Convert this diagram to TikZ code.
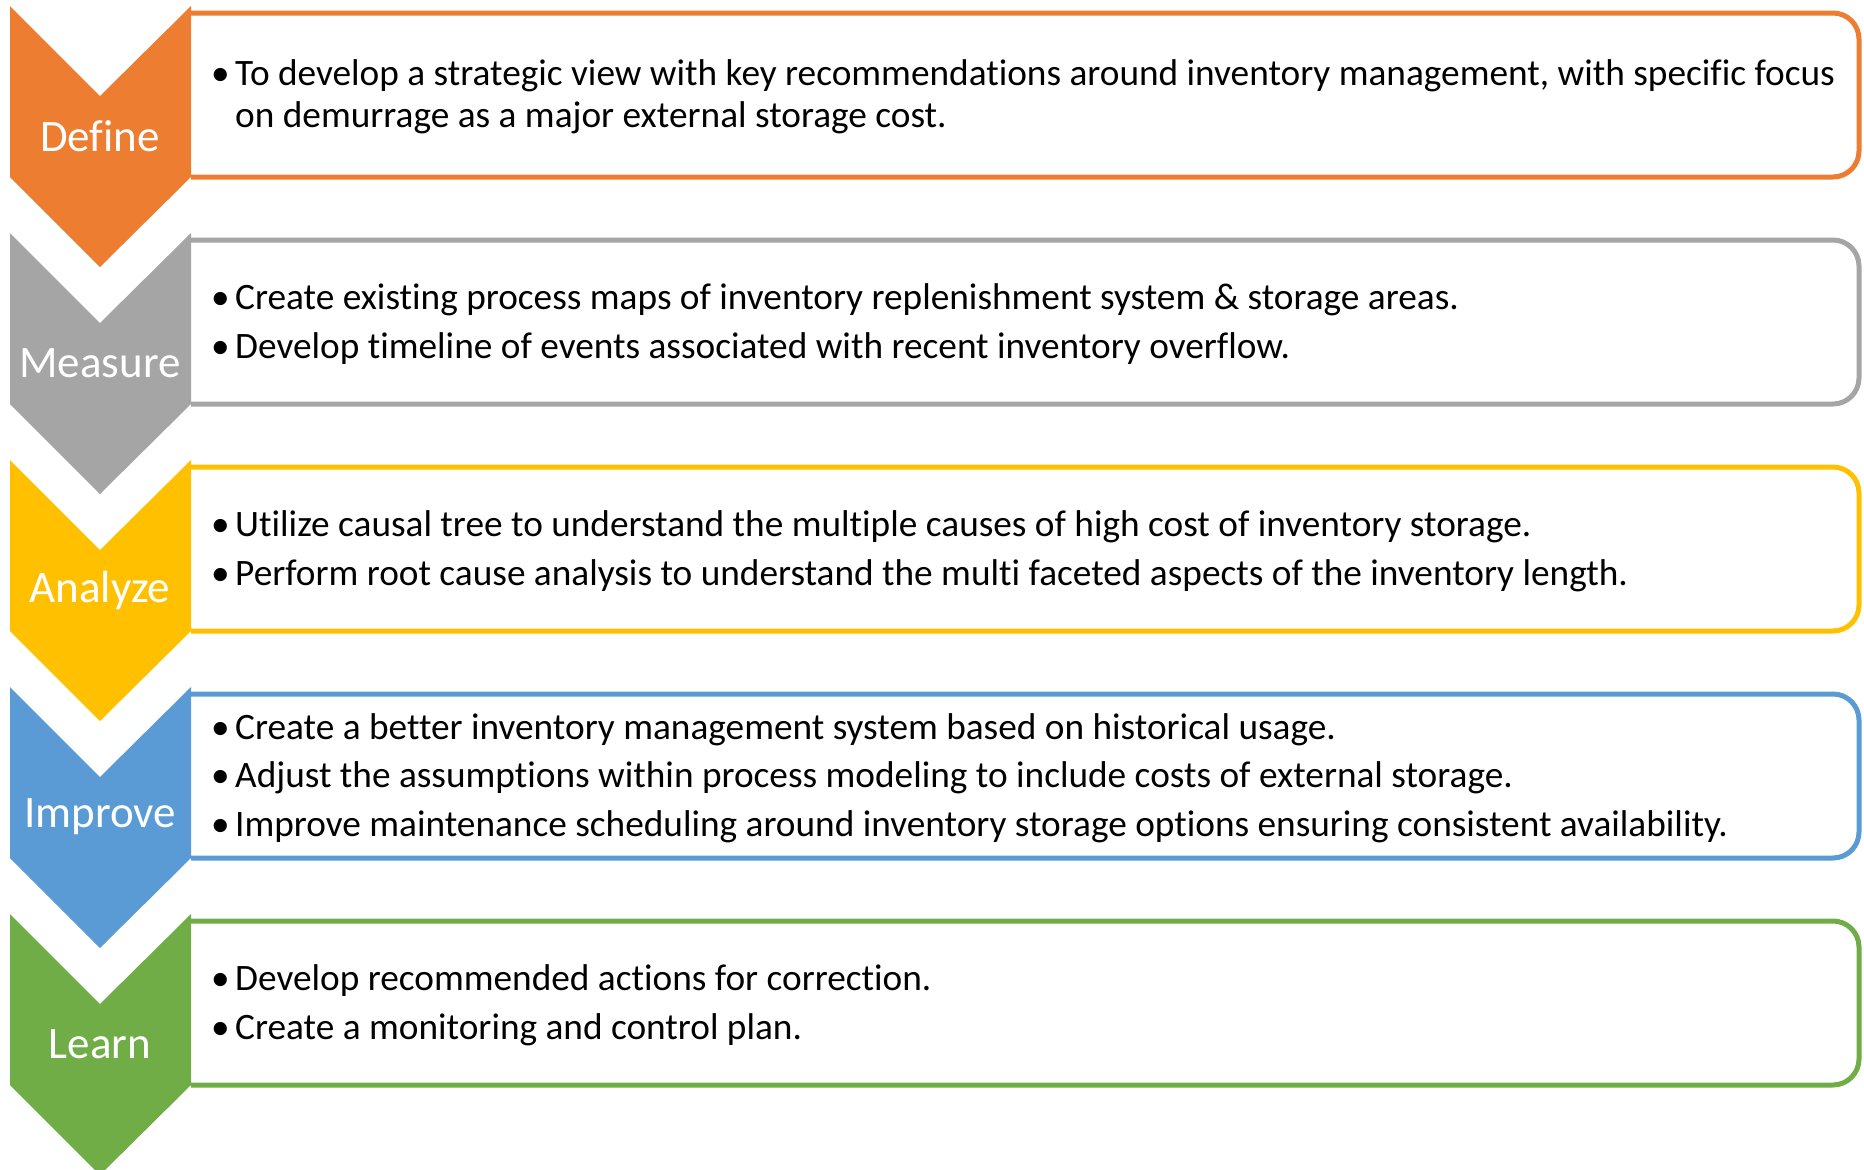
\documentclass[tikz,border=0pt]{standalone}
\usepackage{fontspec}
\setmainfont[Ligatures=CommonOff]{Carlito}

\definecolor{defineorange}{HTML}{ED7D31}
\definecolor{measuregray}{HTML}{A5A5A5}
\definecolor{analyzegold}{HTML}{FFC000}
\definecolor{improveblue}{HTML}{5B9BD5}
\definecolor{learngreen}{HTML}{70AD47}

% bullet with hanging indent
\newcommand{\bul}{\makebox[22pt][l]{\hspace{-2pt}\textbullet}}
\newcommand{\ind}{\hspace*{22pt}}

\begin{document}
\begin{tikzpicture}[x=1pt, y=-1pt,
    phase/.style={text=white, font=\fontsize{45}{52}\selectfont, inner sep=0pt},
    info/.style={anchor=west, align=left, inner sep=0pt, font=\fontsize{37.3}{41.5}\selectfont},
    frame/.style={line width=5pt, rounded corners=26pt}
]
\useasboundingbox (0,0) rectangle (1864,1170);

% Define
\draw[defineorange, frame] (191,13) -- (1859,13) -- (1859,177) -- (191,177);
\fill[defineorange] (10,6) -- (100,96) -- (191,6) -- (191,177) -- (100,267) -- (10,177) -- cycle;
\node[phase] (def) at (100,136) {Define};
\node[info] (deftxt) at (213,97) {\bul To develop a strategic view with key recommendations around inventory management, with specific focus\\
  \ind on demurrage as a major external storage cost.};

% Measure
\begin{scope}[shift={(0,227)}]
\draw[measuregray, frame] (191,13) -- (1859,13) -- (1859,177) -- (191,177);
\fill[measuregray] (10,6) -- (100,96) -- (191,6) -- (191,177) -- (100,267) -- (10,177) -- cycle;
\node[phase] (meas) at (100,136) {Measure};
\node[info] (meastxt) at (213,97) {\bul Create existing process maps of inventory replenishment system \& storage areas.\\[7pt]
  \bul Develop timeline of events associated with recent inventory overflow.};
\end{scope}

% Analyze
\begin{scope}[shift={(0,454)}]
\draw[analyzegold, frame] (191,13) -- (1859,13) -- (1859,177) -- (191,177);
\fill[analyzegold] (10,6) -- (100,96) -- (191,6) -- (191,177) -- (100,267) -- (10,177) -- cycle;
\node[phase] (ana) at (100,136) {Analyze};
\node[info] (anatxt) at (213,97) {\bul Utilize causal tree to understand the multiple causes of high cost of inventory storage.\\[7pt]
  \bul Perform root cause analysis to understand the multi faceted aspects of the inventory length.};
\end{scope}

% Improve
\begin{scope}[shift={(0,681)}]
\draw[improveblue, frame] (191,13) -- (1859,13) -- (1859,177) -- (191,177);
\fill[improveblue] (10,6) -- (100,96) -- (191,6) -- (191,177) -- (100,267) -- (10,177) -- cycle;
\node[phase] (imp) at (100,136) {Improve};
\node[info] (imptxt) at (213,97) {\bul Create a better inventory management system based on historical usage.\\[7pt]
  \bul Adjust the assumptions within process modeling to include costs of external storage.\\[7pt]
  \bul Improve maintenance scheduling around inventory storage options ensuring consistent availability.};
\end{scope}

% Learn
\begin{scope}[shift={(0,908)}]
\draw[learngreen, frame] (191,13) -- (1859,13) -- (1859,177) -- (191,177);
\fill[learngreen] (10,6) -- (100,96) -- (191,6) -- (191,177) -- (100,267) -- (10,177) -- cycle;
\node[phase] (lrn) at (100,136) {Learn};
\node[info] (lrntxt) at (213,97) {\bul Develop recommended actions for correction.\\[7pt]
  \bul Create a monitoring and control plan.};
\end{scope}
\end{tikzpicture}
\end{document}
